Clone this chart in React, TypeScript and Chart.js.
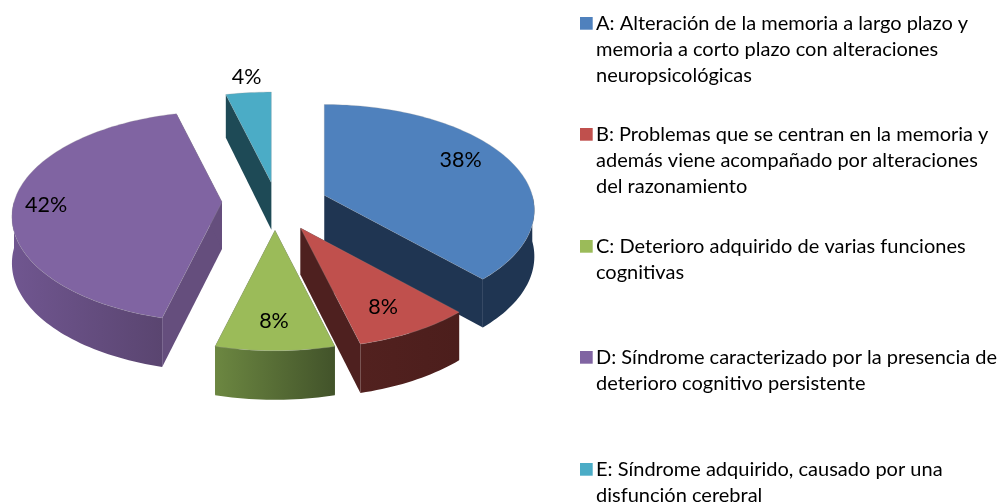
import { useEffect, useRef } from "react";
import { Chart, registerables } from "chart.js";

Chart.register(...registerables);

// ---- data ----
const categories = ["A", "B", "C", "D", "E"];
const shares = [38, 8, 8, 42, 4];
const legendA = ["A: Alteración de la memoria a largo plazo y", "memoria a corto plazo con alteraciones", "neuropsicológicas"];
const legendB = ["B: Problemas que se centran en la memoria y", "además viene acompañado por alteraciones", "del razonamiento"];
const legendC = ["C: Deterioro adquirido de varias funciones", "cognitivas"];
const legendD = ["D: Síndrome caracterizado por la presencia de", "deterioro cognitivo persistente"];
const legendE = ["E: Síndrome adquirido, causado por una", "disfunción cerebral"];
const legendTexts = [legendA, legendB, legendC, legendD, legendE];

// ---- style ----
const topColors = ["#4F81BD", "#C0504D", "#9BBB59", "#8064A2", "#4BACC6"];
const wallColors = ["#1F3552", "#4E201F", "#566B34", "#654E7D", "#1E4A56"];
const rimLeft = ["#1F3552", "#52211F", "#6C8741", "#705690", "#1E4A56"];
const rimRight = ["#1F3552", "#4C1E1C", "#42532A", "#5A4570", "#1E4A56"];
const explode = [53, 53, 53, 53, 53];
const sliceNudgeX = [0, 0, 0, 0, 3];
const sliceNudgeY = [0, 0, -1, -3, 4];
const labelNudgeX = [26, 14, -1, -51, -11];
const labelNudgeY = [-13, 17, 18, 3, -52];
const drawOrder = [4, 0, 3, 1, 2];
const legendBaselines = [30, 141, 253, 364, 476];
const legendLine = 26;
const FONT = "Lato, 'Open Sans', sans-serif";
const Y_RATIO = 0.4976;
const PERSPECTIVE = 0.14;
const LABEL_FRACTION = 0.6;

const pie3d = {
  id: "pie3d",
  beforeDatasetsDraw(chart: any) {
    const { ctx } = chart;
    const arcs = chart.getDatasetMeta(0).data;
    const geo = (i: number) => {
      const arc = arcs[i];
      const mid = (arc.startAngle + arc.endAngle) / 2;
      const e = arc.options.offset;
      const ax = arc.x + e * Math.cos(mid) + sliceNudgeX[i];
      const ay = arc.y + e * Y_RATIO * Math.sin(mid) + sliceNudgeY[i];
      const R = arc.outerRadius;
      const at = (a: number, f = 1) => {
        const u = Math.cos(a);
        const v = Math.sin(a);
        const s = 1 / (1 - PERSPECTIVE * v);
        return [ax + f * R * u * s, ay + f * R * Y_RATIO * v * s];
      };
      const depth = (a: number) => 46 + 3 * Math.sin(a);
      return { arc, mid, ax, ay, at, depth };
    };
    const sample = (a0: number, a1: number) => {
      const n = Math.max(2, Math.ceil(Math.abs(a1 - a0) * 40));
      const out: number[] = [];
      for (let k = 0; k <= n; k++) out.push(a0 + ((a1 - a0) * k) / n);
      return out;
    };
    const poly = (pts: number[][]) => {
      ctx.beginPath();
      pts.forEach((p, k) => (k ? ctx.lineTo(p[0], p[1]) : ctx.moveTo(p[0], p[1])));
      ctx.closePath();
    };

    ctx.save();
    for (const i of drawOrder) {
      const { arc, ax, ay, at, depth } = geo(i);
      // radial walls
      for (const a of [arc.startAngle, arc.endAngle]) {
        const p = at(a);
        const d = depth(a);
        poly([[ax, ay], p, [p[0], p[1] + d], [ax, ay + 47]]);
        ctx.fillStyle = wallColors[i];
        ctx.fill();
      }
      // outer rim (only the part facing the viewer)
      const r0 = Math.max(arc.startAngle, 0);
      const r1 = Math.min(arc.endAngle, Math.PI);
      if (r1 > r0) {
        const angles = sample(r0, r1);
        const top = angles.map((a) => at(a));
        const bottom = angles.map((a) => {
          const p = at(a);
          return [p[0], p[1] + depth(a)];
        }).reverse();
        const xs = top.map((p) => p[0]);
        const g = ctx.createLinearGradient(Math.min(...xs), 0, Math.max(...xs), 0);
        g.addColorStop(0, rimLeft[i]);
        g.addColorStop(1, rimRight[i]);
        poly([...top, ...bottom]);
        ctx.fillStyle = g;
        ctx.fill();
      }
      // top face
      const face = sample(arc.startAngle, arc.endAngle).map((a) => at(a));
      poly([[ax, ay], ...face]);
      ctx.fillStyle = topColors[i];
      ctx.fill();
      ctx.lineWidth = 0.6;
      ctx.strokeStyle = "rgba(150,150,150,0.45)";
      ctx.stroke();
    }

    // percentage labels
    ctx.fillStyle = "#000";
    ctx.font = `21.5px ${FONT}`;
    ctx.textAlign = "center";
    ctx.textBaseline = "middle";
    shares.forEach((v, i) => {
      const { mid, at } = geo(i);
      const p = at(mid, LABEL_FRACTION);
      ctx.fillText(`${v}%`, p[0] + labelNudgeX[i], p[1] + labelNudgeY[i]);
    });
    ctx.restore();
    return false;
  },
  afterDraw(chart: any) {
    const { ctx } = chart;
    ctx.save();
    ctx.font = `20px ${FONT}`;
    ctx.textAlign = "left";
    ctx.textBaseline = "alphabetic";
    legendTexts.forEach((lines, i) => {
      const base = legendBaselines[i];
      ctx.fillStyle = topColors[i];
      ctx.fillRect(580, base - 13, 12.7, 12.7);
      ctx.fillStyle = "#000";
      lines.forEach((t, k) => ctx.fillText(t, 596, base + k * legendLine));
    });
    ctx.restore();
  },
};

export default function App() {
  const ref = useRef<HTMLCanvasElement>(null);
  useEffect(() => {
    const chart = new Chart(ref.current as HTMLCanvasElement, {
      type: "pie",
      data: {
        labels: categories,
        datasets: [{ data: shares, backgroundColor: topColors, offset: explode, borderWidth: 0 }],
      },
      options: {
        responsive: false,
        animation: false,
        radius: 208,
        layout: { padding: { left: 0, top: 0, right: 448, bottom: 92 } },
        plugins: { legend: { display: false }, tooltip: { enabled: false } },
      },
      plugins: [pie3d],
    } as any);
    return () => chart.destroy();
  }, []);
  return (
    <div style={{ position: "fixed", left: 0, top: 0, width: 998, height: 502, background: "#fff" }}>
      <canvas ref={ref} width={998} height={502} style={{ display: "block" }} />
    </div>
  );
}
